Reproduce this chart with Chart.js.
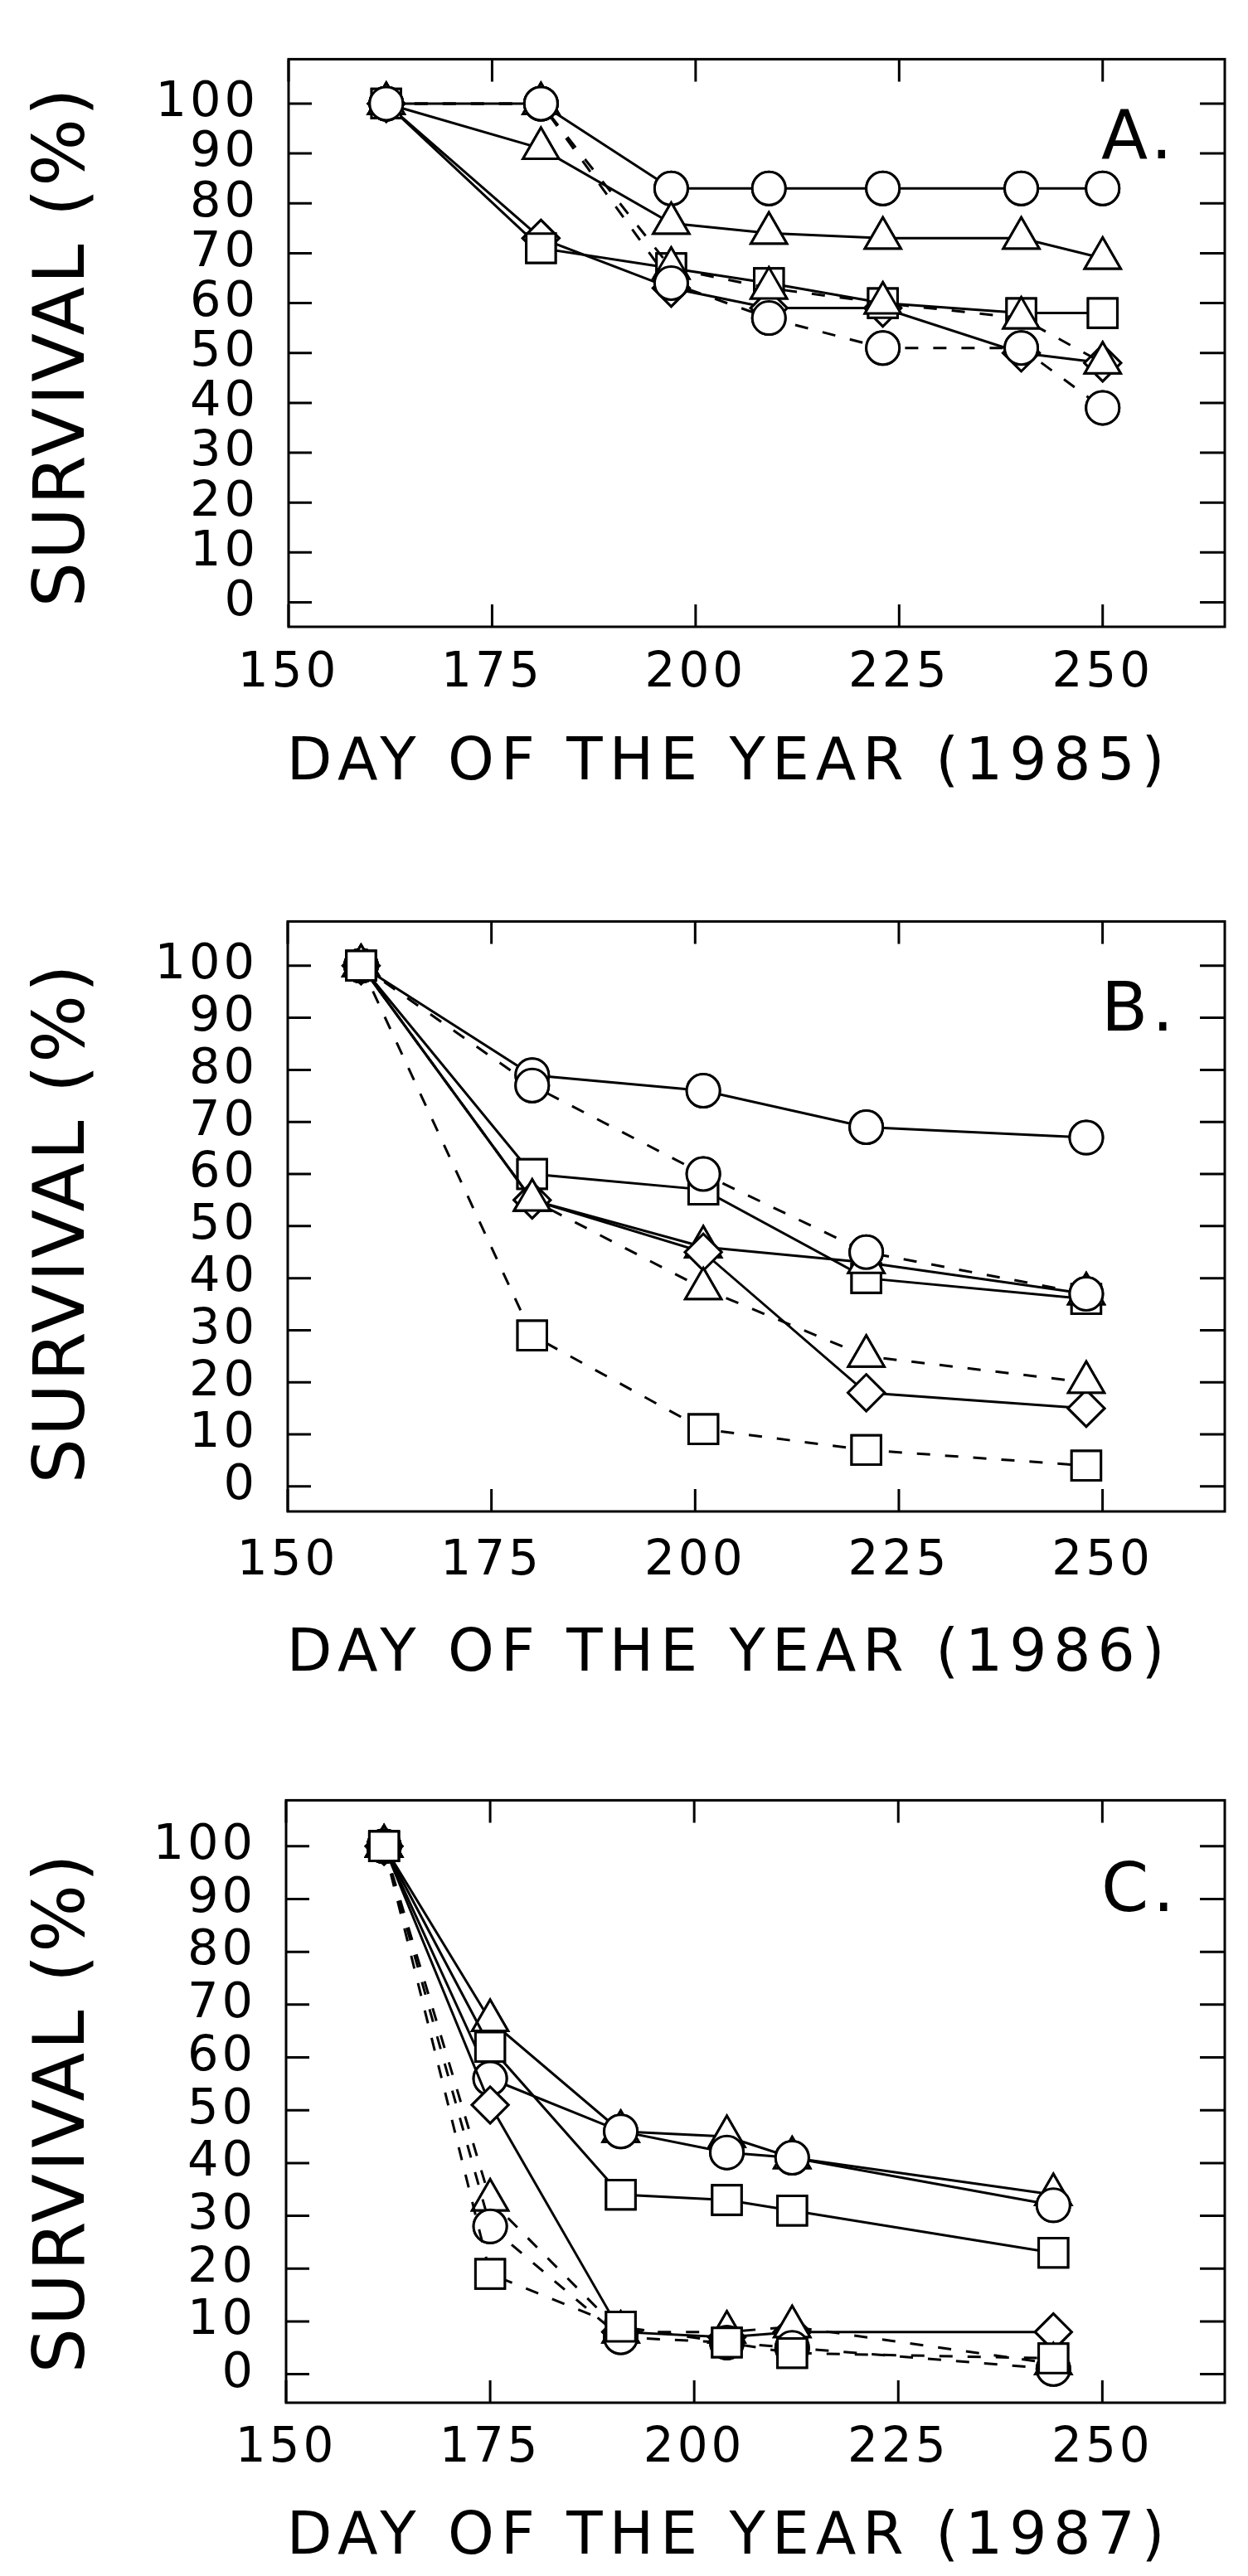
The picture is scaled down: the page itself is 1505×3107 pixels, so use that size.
<!DOCTYPE html>
<html lang="en">
<head>
<meta charset="UTF-8">
<title>Survival by day of the year, 1985-1987</title>
<script src="https://cdn.jsdelivr.net/npm/chart.js"></script>
<style>
    body {
        margin: 0;
        background: #fff;
    }
    .page {
        position: relative;
        width: 1505px;
        height: 3107px;
        overflow: hidden;
        background: #fff;
    }
    .panel {
        position: absolute;
        left: 0;
        width: 1505px;
    }
</style>
</head>
<body>
<div class="page">
    <div class="panel" style="top:0;height:1040px"><canvas id="chartA" width="1505" height="1040"></canvas></div>
    <div class="panel" style="top:1040px;height:1060px"><canvas id="chartB" width="1505" height="1060"></canvas></div>
    <div class="panel" style="top:2100px;height:1007px"><canvas id="chartC" width="1505" height="1007"></canvas></div>
</div>

<script>
    // tick labels (same on every panel)
    const xTicks = [150, 175, 200, 225, 250];
    const yTicks = [0, 10, 20, 30, 40, 50, 60, 70, 80, 90, 100];

    // A. 1985
    const daysA = [162, 181, 197, 209, 223, 240, 250];
    const circleSolidA = [100, 100, 83, 83, 83, 83, 83];
    const triangleSolidA = [100, 91, 76, 74, 73, 73, 69];
    const squareSolidA = [100, 71, 67, 64, 60, 58, 58];
    const diamondSolidA = [100, 73, 63, 59, 59, 50, 48];
    const circleDashedA = [100, 100, 64, 57, 51, 51, 39];
    const triangleDashedA = [100, 100, 67, 63, 60, 57, 48];

    // B. 1986
    const daysB = [159, 180, 201, 221, 248];
    const circleSolidB = [100, 79, 76, 69, 67];
    const circleDashedB = [100, 77, 60, 45, 37];
    const squareSolidB = [100, 60, 57, 40, 36];
    const squareDashedB = [100, 29, 11, 7, 4];
    const triangleSolidB = [100, 55, 46, 43, 37];
    const triangleDashedB = [100, 55, 38, 25, 20];
    const diamondSolidB = [100, 55, 45, 18, 15];

    // C. 1987
    const daysC = [162, 175, 191, 204, 212, 244];
    const triangleSolidC = [100, 67, 46, 45, 41, 34];
    const circleSolidC = [100, 56, 46, 42, 41, 32];
    const squareSolidC = [100, 62, 34, 33, 31, 23];
    const diamondSolidC = [100, 51, 8, 7, 8, 8];
    const triangleDashedC = [100, 33, 8, 8, 9, 2];
    const circleDashedC = [100, 28, 7, 6, 5, 1];
    const squareDashedC = [100, 19, 9, 6, 4, 3];

    const FONT = '"DejaVu Sans", sans-serif';

    // marker sizes per point style
    const markerRadius = { circle: 20, triangle: 25, rect: 25, rectRot: 22 };

    function series(label, days, values, style, dashed) {
        return {
            label: label,
            data: days.map((d, i) => ({ x: d, y: values[i] })),
            borderColor: '#000',
            borderWidth: 3,
            borderDash: dashed ? [16, 18] : [],
            pointStyle: style,
            pointRadius: markerRadius[style],
            pointBackgroundColor: '#fff',
            pointBorderColor: '#000',
            pointBorderWidth: 3,
            tension: 0,
            fill: false
        };
    }

    // open outlines drawn over everything, so stacked symbols all show
    function outlines(list) {
        return list.map(s => Object.assign({}, s, {
            label: s.label + ' outline',
            showLine: false,
            pointBackgroundColor: 'rgba(0,0,0,0)'
        }));
    }

    // frame with inward ticks, axis titles and the panel letter
    const framePlugin = {
        id: 'frame',
        beforeDraw(chart) {
            chart.ctx.letterSpacing = '4px';
        },
        beforeDatasetsDraw(chart) {
            const { ctx, chartArea: a, scales: { x, y } } = chart;
            ctx.save();
            ctx.strokeStyle = '#000';
            ctx.lineWidth = 3;
            ctx.strokeRect(a.left, a.top, a.right - a.left, a.bottom - a.top);
            ctx.beginPath();
            xTicks.forEach(v => {
                const px = x.getPixelForValue(v);
                ctx.moveTo(px, a.top);
                ctx.lineTo(px, a.top + 27);
                ctx.moveTo(px, a.bottom);
                ctx.lineTo(px, a.bottom - 27);
            });
            yTicks.forEach(v => {
                const py = y.getPixelForValue(v);
                ctx.moveTo(a.left, py);
                ctx.lineTo(a.left + 28, py);
                ctx.moveTo(a.right, py);
                ctx.lineTo(a.right - 30, py);
            });
            ctx.stroke();
            ctx.restore();
        },
        afterDraw(chart, args, opts) {
            const { ctx, chartArea: a } = chart;
            ctx.save();
            ctx.fillStyle = '#000';
            ctx.textBaseline = 'middle';
            ctx.textAlign = 'center';

            // x title
            ctx.font = '71px ' + FONT;
            ctx.letterSpacing = '8px';
            ctx.fillText(opts.xTitle, 879, a.bottom + opts.xTitleGap);

            // y title
            ctx.font = '86px ' + FONT;
            ctx.letterSpacing = '3px';
            ctx.save();
            ctx.translate(79, opts.yTitleY);
            ctx.rotate(-Math.PI / 2);
            ctx.fillText('SURVIVAL (%)', 0, 0);
            ctx.restore();

            // panel letter
            ctx.font = '82px ' + FONT;
            ctx.letterSpacing = '5px';
            ctx.textAlign = 'left';
            ctx.textBaseline = 'alphabetic';
            ctx.fillText(opts.letter, 1328, a.top + opts.letterGap);
            ctx.restore();
        }
    };

    function createPanel(canvasId, list, g) {
        const ctx = document.getElementById(canvasId).getContext('2d');
        return new Chart(ctx, {
            type: 'line',
            data: { datasets: list.concat(outlines(list)) },
            plugins: [framePlugin],
            options: {
                responsive: false,
                animation: false,
                devicePixelRatio: 1,
                layout: { padding: { top: g.padTop, right: g.padRight, left: 0, bottom: 0 } },
                plugins: {
                    legend: { display: false },
                    tooltip: { enabled: false },
                    frame: {
                        xTitle: g.xTitle,
                        xTitleGap: g.xTitleGap,
                        yTitleY: g.yTitleY,
                        letter: g.letter,
                        letterGap: g.letterGap
                    }
                },
                scales: {
                    x: {
                        type: 'linear',
                        min: 150,
                        max: 265,
                        grid: { display: false, drawTicks: false },
                        border: { display: false },
                        afterBuildTicks: s => { s.ticks = xTicks.map(v => ({ value: v })); },
                        afterFit: s => { s.height = g.xHeight; },
                        ticks: {
                            color: '#000',
                            padding: g.xTickPad,
                            maxRotation: 0,
                            autoSkip: false,
                            font: { family: FONT, size: 58, lineHeight: 1.2 }
                        }
                    },
                    y: {
                        type: 'linear',
                        min: g.yMin,
                        max: g.yMax,
                        grid: { display: false, drawTicks: false },
                        border: { display: false },
                        afterBuildTicks: s => { s.ticks = yTicks.map(v => ({ value: v })); },
                        afterFit: s => { s.width = g.left; },
                        ticks: {
                            color: '#000',
                            padding: 36,
                            autoSkip: false,
                            font: { family: FONT, size: 59, lineHeight: 1.2 }
                        }
                    }
                }
            }
        });
    }

    createPanel('chartA', [
        series('circle dashed', daysA, circleDashedA, 'circle', true),
        series('triangle dashed', daysA, triangleDashedA, 'triangle', true),
        series('square', daysA, squareSolidA, 'rect', false),
        series('diamond', daysA, diamondSolidA, 'rectRot', false),
        series('triangle', daysA, triangleSolidA, 'triangle', false),
        series('circle', daysA, circleSolidA, 'circle', false)
    ], {
        padTop: 18, padRight: 7, left: 348, xHeight: 284, xTickPad: 22,
        yMin: -4.9, yMax: 108.9,
        xTitle: 'DAY OF THE YEAR (1985)', xTitleGap: 166, yTitleY: 418,
        letter: 'A.', letterGap: 120
    });

    createPanel('chartB', [
        series('square dashed', daysB, squareDashedB, 'rect', true),
        series('triangle dashed', daysB, triangleDashedB, 'triangle', true),
        series('circle dashed', daysB, circleDashedB, 'circle', true),
        series('diamond', daysB, diamondSolidB, 'rectRot', false),
        series('triangle', daysB, triangleSolidB, 'triangle', false),
        series('square', daysB, squareSolidB, 'rect', false),
        series('circle', daysB, circleSolidB, 'circle', false)
    ], {
        padTop: 50, padRight: 8, left: 347, xHeight: 277, xTickPad: 26,
        yMin: -4.8, yMax: 108.5,
        xTitle: 'DAY OF THE YEAR (1986)', xTitleGap: 174, yTitleY: 435,
        letter: 'B.', letterGap: 132
    });

    createPanel('chartC', [
        series('square dashed', daysC, squareDashedC, 'rect', true),
        series('circle dashed', daysC, circleDashedC, 'circle', true),
        series('triangle dashed', daysC, triangleDashedC, 'triangle', true),
        series('diamond', daysC, diamondSolidC, 'rectRot', false),
        series('square', daysC, squareSolidC, 'rect', false),
        series('circle', daysC, circleSolidC, 'circle', false),
        series('triangle', daysC, triangleSolidC, 'triangle', false)
    ], {
        padTop: 64, padRight: 11, left: 345, xHeight: 209, xTickPad: 21,
        yMin: -5.4, yMax: 108.7,
        xTitle: 'DAY OF THE YEAR (1987)', xTitleGap: 164, yTitleY: 448,
        letter: 'C.', letterGap: 134
    });
</script>
</body>
</html>
